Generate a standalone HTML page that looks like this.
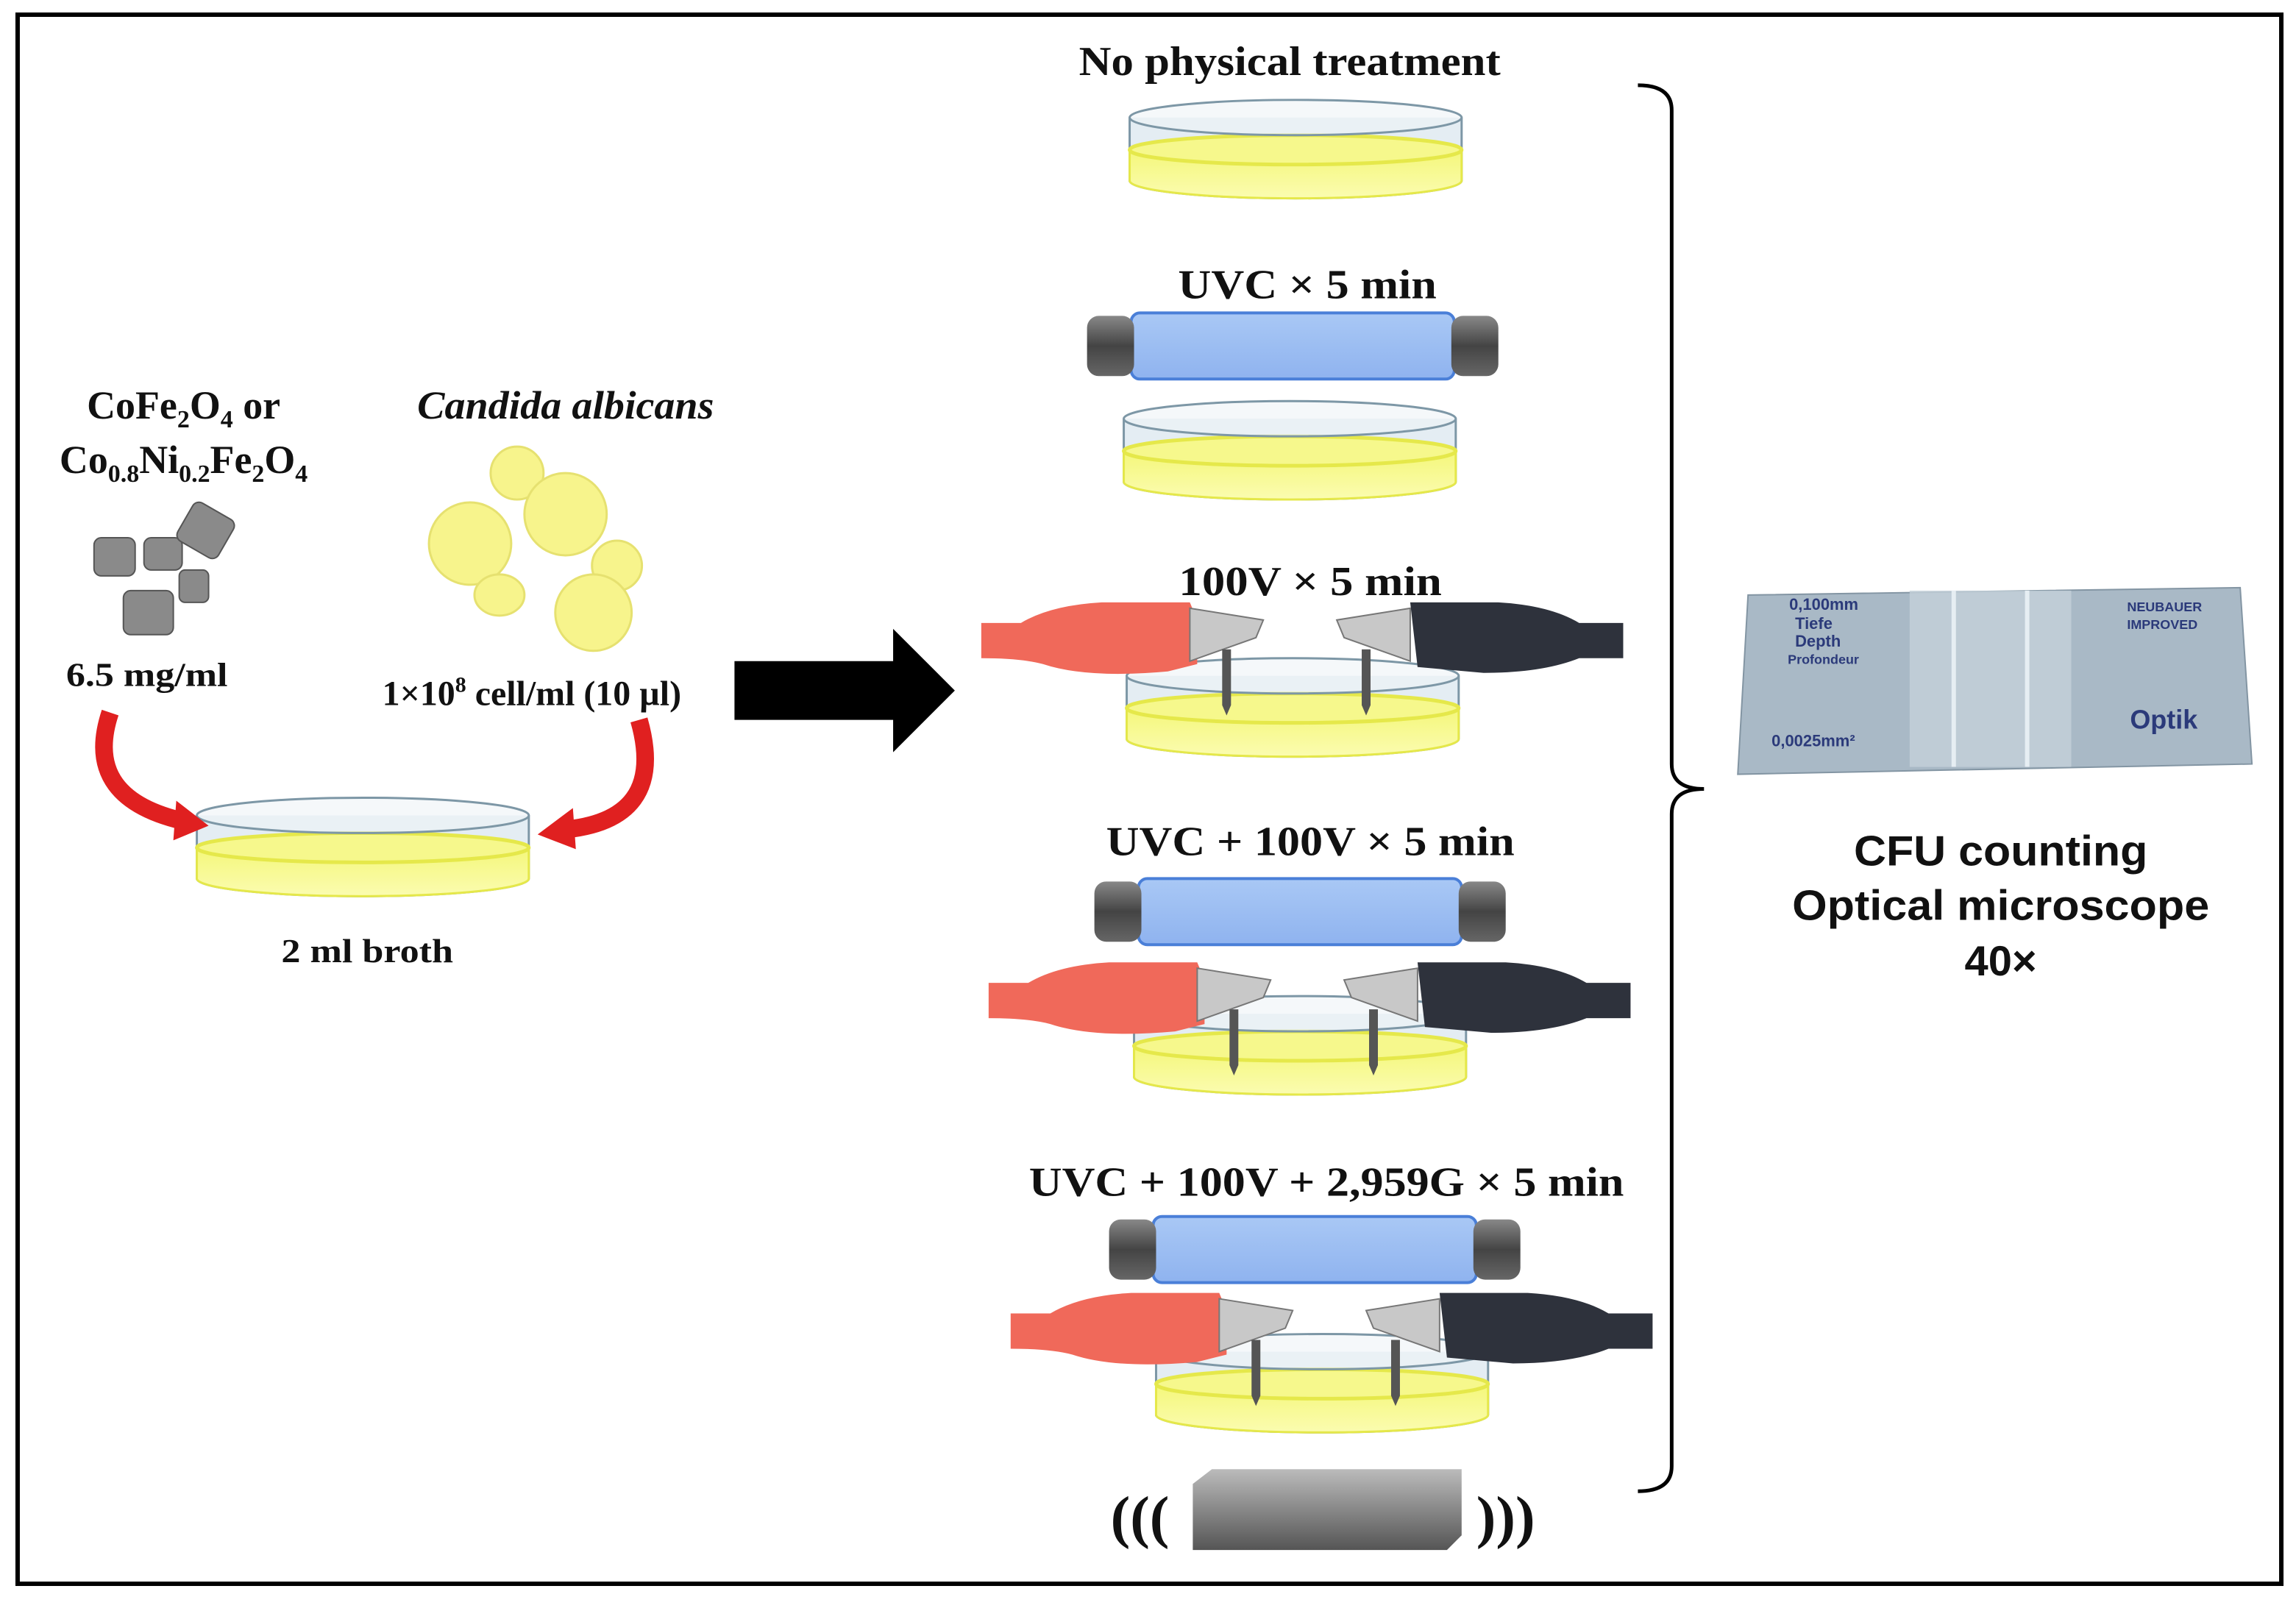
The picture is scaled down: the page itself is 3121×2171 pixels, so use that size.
<!DOCTYPE html>
<html><head><meta charset="utf-8"><style>html,body{margin:0;padding:0;background:#fff}svg{display:block}</style></head>
<body>
<svg width="3121" height="2171" viewBox="0 0 1563 1087" preserveAspectRatio="none" xmlns="http://www.w3.org/2000/svg" font-family="Liberation Serif, serif">
<defs>
<linearGradient id="yl" x1="0" y1="0" x2="0" y2="1"><stop offset="0" stop-color="#f4f77a"/><stop offset="1" stop-color="#fbfcb0"/></linearGradient>
<linearGradient id="bl" x1="0" y1="0" x2="0" y2="1"><stop offset="0" stop-color="#a9c8f5"/><stop offset="1" stop-color="#8fb3ef"/></linearGradient>
<linearGradient id="cap" x1="0" y1="0" x2="0" y2="1"><stop offset="0" stop-color="#888"/><stop offset=".5" stop-color="#444"/><stop offset="1" stop-color="#666"/></linearGradient>
<linearGradient id="mag" x1="0" y1="0" x2="0" y2="1"><stop offset="0" stop-color="#bbb"/><stop offset="1" stop-color="#555"/></linearGradient>
<g id="dish">
<path d="M-113 0 V43 A113 12 0 0 0 113 43 V0" fill="#e4edf3" stroke="#7d97a6" stroke-width="1.5"/>
<path d="M-113 22 V43 A113 12 0 0 0 113 43 V22 Z" fill="url(#yl)" stroke="#e5e84a" stroke-width="1.5"/>
<ellipse cx="0" cy="22" rx="113" ry="10" fill="#f6f88c" stroke="#e5e84a" stroke-width="2.5"/>
<ellipse cx="0" cy="0" rx="113" ry="12" fill="#eef3f6" fill-opacity=".6" stroke="#7d97a6" stroke-width="1.5"/>
</g>
<g id="lamp">
<rect x="-110" y="0" width="220" height="45" rx="6" fill="url(#bl)" stroke="#4a7fd8" stroke-width="2"/>
<rect x="-140" y="2" width="32" height="41" rx="8" fill="url(#cap)"/>
<rect x="108" y="2" width="32" height="41" rx="8" fill="url(#cap)"/>
</g>
<g id="clips">
<path d="M-212 12 H-185 Q-165 0 -130 -2 H-70 L-65 10 V40 L-85 45 Q-140 50 -170 40 Q-185 36 -212 36 Z" fill="#f0695a"/>
<path d="M-70 2 L-20 10 L-25 22 L-70 38 Z" fill="#c8c8c8" stroke="#777"/>
<path d="M80 -2 H140 Q175 0 195 12 H225 V36 H195 Q170 46 130 46 L85 42 Z" fill="#2e323c"/>
<path d="M80 2 L30 10 L35 22 L80 38 Z" fill="#c8c8c8" stroke="#777"/>
<path d="M-48 30 V68 L-45 75 L-42 68 V30 Z" fill="#555"/>
<path d="M47 30 V68 L50 75 L53 68 V30 Z" fill="#555"/>
</g>
</defs>
<rect x="12" y="10" width="1541" height="1068" fill="#fff" stroke="#000" stroke-width="3"/>

<g font-weight="bold" font-size="28" text-anchor="middle" fill="#111" lengthAdjust="spacingAndGlyphs">
<text x="878" y="51" textLength="287" lengthAdjust="spacingAndGlyphs">No physical treatment</text>
<text x="890" y="203" textLength="176" lengthAdjust="spacingAndGlyphs">UVC × 5 min</text>
<text x="892" y="405" textLength="179" lengthAdjust="spacingAndGlyphs">100V × 5 min</text>
<text x="892" y="582" textLength="278" lengthAdjust="spacingAndGlyphs">UVC + 100V × 5 min</text>
<text x="903" y="814" textLength="405" lengthAdjust="spacingAndGlyphs">UVC + 100V + 2,959G × 5 min</text>
</g>

<use href="#dish" x="882" y="80"/>
<use href="#lamp" x="880" y="213"/>
<use href="#dish" x="878" y="285"/>
<use href="#dish" x="880" y="460"/>
<use href="#clips" x="880" y="412"/>
<use href="#lamp" x="885" y="598"/>
<use href="#dish" x="885" y="690"/>
<use href="#clips" x="885" y="657"/>
<use href="#lamp" x="895" y="828"/>
<use href="#dish" x="900" y="920"/>
<use href="#clips" x="900" y="882"/>

<path d="M812 1010 L825 1000 H995 V1045 L985 1055 H812 Z" fill="url(#mag)"/>
<text x="776" y="1046" font-size="40" text-anchor="middle" font-weight="bold" fill="#111">(((</text>
<text x="1025" y="1046" font-size="40" text-anchor="middle" font-weight="bold" fill="#111">)))</text>

<path d="M1115 58 Q1138 58 1138 75 V520 Q1138 537 1160 537 Q1138 537 1138 554 V998 Q1138 1015 1115 1015" fill="none" stroke="#000" stroke-width="2.5"/>

<path d="M500 450 H608 V428 L650 470 L608 512 V490 H500 Z" fill="#000"/>

<g font-weight="bold" font-size="27" text-anchor="middle" fill="#111">
<text x="125" y="285">CoFe<tspan font-size="17" dy="6">2</tspan><tspan dy="-6">O</tspan><tspan font-size="17" dy="6">4</tspan><tspan dy="-6"> or</tspan></text>
<text x="125" y="322">Co<tspan font-size="17" dy="6">0.8</tspan><tspan dy="-6">Ni</tspan><tspan font-size="17" dy="6">0.2</tspan><tspan dy="-6">Fe</tspan><tspan font-size="17" dy="6">2</tspan><tspan dy="-6">O</tspan><tspan font-size="17" dy="6">4</tspan></text>
<text x="385" y="285" font-style="italic" textLength="202" lengthAdjust="spacingAndGlyphs">Candida albicans</text>
<text x="100" y="467" font-size="23" textLength="110" lengthAdjust="spacingAndGlyphs">6.5 mg/ml</text>
<text x="362" y="480" font-size="24">1×10<tspan font-size="15" dy="-9">8</tspan><tspan dy="9"> cell/ml (10 µl)</tspan></text>
<text x="250" y="655" font-size="23" textLength="117" lengthAdjust="spacingAndGlyphs">2 ml broth</text>
</g>
<g fill="#8a8a8a" stroke="#555">
<rect x="64" y="366" width="28" height="26" rx="5"/>
<rect x="98" y="366" width="26" height="22" rx="5"/>
<rect x="124" y="346" width="32" height="30" rx="5" transform="rotate(30 140 361)"/>
<rect x="122" y="388" width="20" height="22" rx="4"/>
<rect x="84" y="402" width="34" height="30" rx="5"/>
</g>
<g fill="#f7f48c" stroke="#e6e170" stroke-width="1.5">
<circle cx="320" cy="370" r="28"/>
<circle cx="352" cy="322" r="18"/>
<circle cx="385" cy="350" r="28"/>
<ellipse cx="340" cy="405" rx="17" ry="14"/>
<circle cx="420" cy="385" r="17"/>
<circle cx="404" cy="417" r="26"/>
</g>
<use href="#dish" x="247" y="555"/>
<path d="M75 485 Q55 545 130 560" fill="none" stroke="#e02020" stroke-width="12"/>
<path d="M120 545 L142 562 L118 572 Z" fill="#e02020"/>
<path d="M435 490 Q455 560 380 565" fill="none" stroke="#e02020" stroke-width="12"/>
<path d="M390 550 L366 568 L392 578 Z" fill="#e02020"/>

<path d="M1190 405 L1525 400 L1533 520 L1183 527 Z" fill="#a9b9c6" stroke="#8395a3"/>
<rect x="1300" y="402" width="110" height="120" fill="#c4d1da" opacity=".8"/>
<line x1="1330" y1="402" x2="1330" y2="522" stroke="#e6eef3" stroke-width="3"/>
<line x1="1380" y1="402" x2="1380" y2="522" stroke="#e6eef3" stroke-width="3"/>
<g font-family="Liberation Sans, sans-serif" font-weight="bold" fill="#2b3a7a" font-size="11">
<text x="1218" y="415">0,100mm</text><text x="1222" y="428">Tiefe</text><text x="1222" y="440">Depth</text><text x="1217" y="452" font-size="9">Profondeur</text>
<text x="1206" y="508">0,0025mm²</text>
<text x="1448" y="416" font-size="9">NEUBAUER</text><text x="1448" y="428" font-size="9">IMPROVED</text>
<text x="1450" y="496" font-size="18">Optik</text>
</g>
<g font-family="Liberation Sans, sans-serif" font-weight="bold" font-size="29" text-anchor="middle" fill="#111">
<text x="1362" y="589" textLength="200" lengthAdjust="spacingAndGlyphs">CFU counting</text>
<text x="1362" y="626" textLength="284" lengthAdjust="spacingAndGlyphs">Optical microscope</text>
<text x="1362" y="664">40×</text>
</g>
</svg>
</body></html>
